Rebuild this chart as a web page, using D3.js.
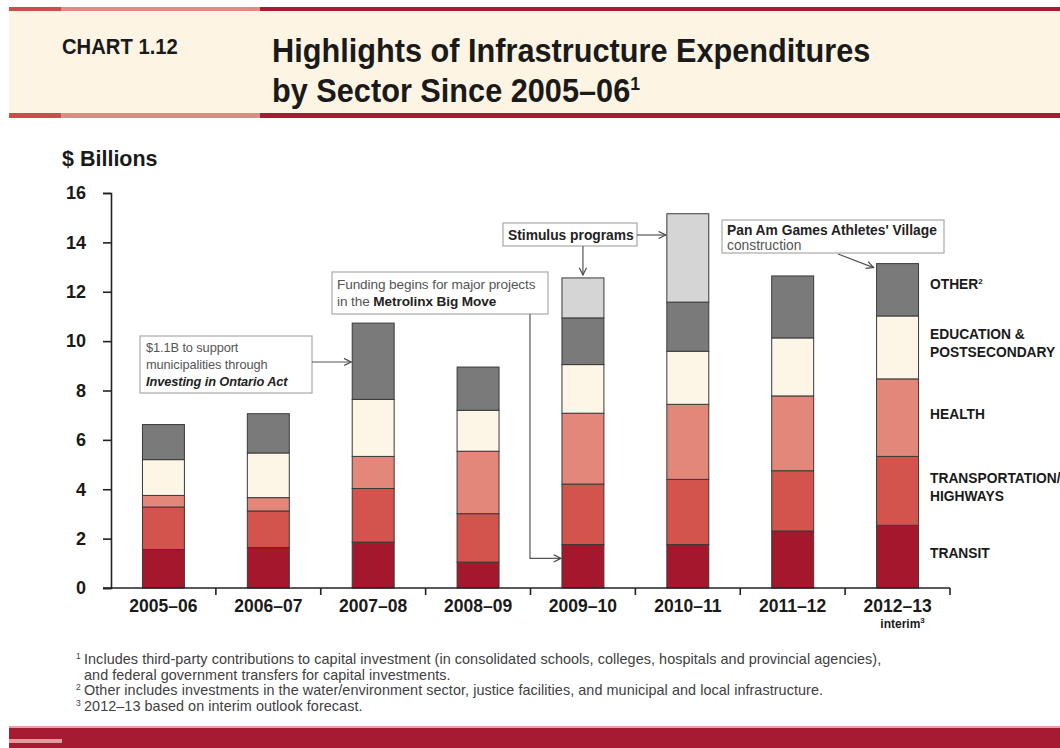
<!DOCTYPE html>
<html>
<head>
<meta charset="utf-8">
<script src="https://cdn.jsdelivr.net/npm/d3@7"></script>
<style>
  html, body { margin: 0; padding: 0; background: #ffffff; }
  svg { display: block; }
  text { font-family: "Liberation Sans", Arial, sans-serif; }
</style>
</head>
<body>
<svg id="chart" width="1060" height="748"></svg>
<script>
// Fiscal years on the x axis
const years = ["2005–06", "2006–07", "2007–08", "2008–09", "2009–10", "2010–11", "2011–12", "2012–13"];

// Spending by sector, $ billions
const transit        = [1.56, 1.64, 1.86, 1.05, 1.76, 1.76, 2.31, 2.54];
const transportation = [1.72, 1.48, 2.17, 1.96, 2.45, 2.64, 2.44, 2.79];
const health         = [0.47, 0.54, 1.30, 2.53, 2.87, 3.04, 3.03, 3.14];
const education      = [1.45, 1.81, 2.31, 1.66, 1.97, 2.15, 2.35, 2.55];
const other          = [1.42, 1.59, 3.09, 1.75, 1.89, 1.99, 2.51, 2.12];
const stimulus       = [0,    0,    0,    0,    1.62, 3.58, 0,    0   ];

const yTicks = [0, 2, 4, 6, 8, 10, 12, 14, 16];

const seriesKeys = ["transit", "transportation", "health", "education", "other", "stimulus"];
const seriesColors = ["#a5172d", "#d3534d", "#e4877b", "#fdf6e6", "#7a7a7a", "#d5d5d5"];
const legendLabels = [
  { key: "transit", lines: ["TRANSIT"] },
  { key: "transportation", lines: ["TRANSPORTATION/", "HIGHWAYS"] },
  { key: "health", lines: ["HEALTH"] },
  { key: "education", lines: ["EDUCATION &", "POSTSECONDARY"] },
  { key: "other", lines: ["OTHER", "2"] }
];

const rows = years.map((yr, i) => ({
  year: yr,
  transit: transit[i],
  transportation: transportation[i],
  health: health[i],
  education: education[i],
  other: other[i],
  stimulus: stimulus[i]
}));

const svg = d3.select("#chart");

// ---- Header band ----
const header = svg.append("g");
header.append("rect").attr("x", 9).attr("y", 9).attr("width", 1051).attr("height", 106).attr("fill", "#fdf4e3");
function ruleLine(y, h) {
  header.append("rect").attr("x", 9).attr("y", y).attr("width", 52).attr("height", h).attr("fill", "#c94f4d");
  header.append("rect").attr("x", 61).attr("y", y).attr("width", 199).attr("height", h).attr("fill", "#e08985");
  header.append("rect").attr("x", 260).attr("y", y).attr("width", 800).attr("height", h).attr("fill", "#a31c34");
}
ruleLine(7, 4);
ruleLine(113, 5);

// Condensed heading text: regular face squeezed horizontally
function condensed(g, xp, yp, sx, size) {
  return g.append("text")
    .attr("transform", `translate(${xp},${yp}) scale(${sx},1)`)
    .attr("font-size", size).attr("font-weight", "bold").attr("fill", "#1a1a1a");
}
condensed(header, 62, 54, 0.92, 22).text("CHART 1.12");
condensed(header, 272, 62, 0.93, 33).text("Highlights of Infrastructure Expenditures");
const t2 = condensed(header, 272, 102, 0.93, 33);
t2.append("tspan").text("by Sector Since 2005–06");
t2.append("tspan").attr("font-size", 19).attr("dy", -12).text("1");

// ---- Scales ----
const x = d3.scaleBand().domain(years).range([111, 950]).paddingInner(0.6).paddingOuter(0.3);
const y = d3.scaleLinear().domain([0, 16]).range([588, 193]);
const color = d3.scaleOrdinal().domain(seriesKeys).range(seriesColors);

const stacked = d3.stack().keys(seriesKeys)(rows);

// ---- Bars ----
const barG = svg.append("g");
barG.selectAll("g.series")
  .data(stacked)
  .join("g")
  .attr("class", "series")
  .attr("fill", d => color(d.key))
  .selectAll("rect")
  .data(d => d.filter(s => s[1] - s[0] > 0))
  .join("rect")
  .attr("x", d => x(d.data.year))
  .attr("width", x.bandwidth())
  .attr("y", d => y(d[1]))
  .attr("height", d => y(d[0]) - y(d[1]))
  .attr("stroke", "#3a3a3a")
  .attr("stroke-width", 1);

// ---- Y axis ----
const yAxis = svg.append("g")
  .attr("transform", "translate(111,0)")
  .call(d3.axisLeft(y).tickValues(yTicks).tickSize(8).tickPadding(17).tickFormat(d3.format("d")));
yAxis.select(".domain").attr("stroke", "#222").attr("stroke-width", 1.6);
yAxis.selectAll(".tick line").attr("stroke", "#222").attr("stroke-width", 1.6);
yAxis.selectAll(".tick text")
  .attr("font-size", 18).attr("font-weight", "bold").attr("fill", "#1a1a1a")
  .attr("font-family", "Liberation Sans, Arial, sans-serif");

svg.append("text")
  .attr("x", 62).attr("y", 166)
  .attr("font-size", 21.5).attr("font-weight", "bold").attr("fill", "#1a1a1a")
  .text("$ Billions");

// ---- X axis: line, boundary ticks and year labels ----
const xAxis = svg.append("g");
xAxis.append("line")
  .attr("x1", 103).attr("x2", x.range()[1])
  .attr("y1", y(0)).attr("y2", y(0))
  .attr("stroke", "#222").attr("stroke-width", 1.6);
const gap = x.step() - x.bandwidth();
const boundaries = years.slice(1).map(c => x(c) - gap / 2).concat([x.range()[1]]);
xAxis.selectAll("line.bt")
  .data(boundaries)
  .join("line")
  .attr("class", "bt")
  .attr("x1", d => d).attr("x2", d => d)
  .attr("y1", y(0)).attr("y2", y(0) + 7)
  .attr("stroke", "#222").attr("stroke-width", 1.6);
xAxis.selectAll("text.yr")
  .data(years)
  .join("text")
  .attr("class", "yr")
  .attr("x", d => x(d) + x.bandwidth() / 2)
  .attr("y", 612)
  .attr("text-anchor", "middle")
  .attr("font-size", 17.5).attr("font-weight", "bold").attr("fill", "#1a1a1a")
  .text(d => d);
const interim = xAxis.append("text")
  .attr("x", x(years[7]) + x.bandwidth() / 2 + 5)
  .attr("y", 628)
  .attr("text-anchor", "middle")
  .attr("font-size", 12).attr("font-weight", "bold").attr("fill", "#1a1a1a");
interim.append("tspan").text("interim");
interim.append("tspan").attr("font-size", 8).attr("dy", -5).text("3");

// ---- Sector labels beside the last bar ----
const lastIdx = years.length - 1;
const legendG = svg.append("g");
legendLabels.forEach(l => {
  const s = stacked.find(d => d.key === l.key)[lastIdx];
  const mid = (y(s[0]) + y(s[1])) / 2 - 4;
  const t = legendG.append("text")
    .attr("x", 930)
    .attr("font-size", 13.8).attr("font-weight", "bold").attr("fill", "#1a1a1a");
  if (l.key === "other") {
    t.attr("y", mid + 3);
    t.append("tspan").text(l.lines[0]);
    t.append("tspan").attr("font-size", 8).attr("dy", -5).text(l.lines[1]);
  } else {
    const n = l.lines.length;
    l.lines.forEach((line, k) => {
      t.append("tspan").attr("x", 930)
        .attr("y", mid + 5 + (k - (n - 1) / 2) * 18)
        .text(line);
    });
  }
});

// ---- Annotations ----
const defs = svg.append("defs");
defs.append("marker")
  .attr("id", "chev")
  .attr("viewBox", "0 0 10 10")
  .attr("refX", 9).attr("refY", 5)
  .attr("markerWidth", 9).attr("markerHeight", 9)
  .attr("markerUnits", "userSpaceOnUse")
  .attr("orient", "auto")
  .append("path")
  .attr("d", "M1,1 L9,5 L1,9")
  .attr("fill", "none").attr("stroke", "#444").attr("stroke-width", 1.3);

const ann = svg.append("g");
function box(x0, y0, w, h) {
  ann.append("rect").attr("x", x0).attr("y", y0).attr("width", w).attr("height", h)
    .attr("fill", "#ffffff").attr("stroke", "#a9a9a9").attr("stroke-width", 1.2);
}
function arrow(points) {
  ann.append("path")
    .attr("d", d3.line()(points))
    .attr("fill", "none").attr("stroke", "#555").attr("stroke-width", 1.2)
    .attr("marker-end", "url(#chev)");
}
function line(xp, yp, parts, size, spacing) {
  const t = ann.append("text").attr("x", xp).attr("y", yp)
    .attr("font-size", size).attr("letter-spacing", spacing || 0);
  parts.forEach(p => {
    t.append("tspan")
      .attr("font-weight", p.bold ? "bold" : "normal")
      .attr("font-style", p.italic ? "italic" : "normal")
      .attr("fill", p.bold ? "#222" : "#555")
      .text(p.t);
  });
}

// Investing in Ontario Act
box(140, 336, 172, 57);
line(146, 352, [{ t: "$1.1B to support" }], 12.8, -0.1);
line(146, 369, [{ t: "municipalities through" }], 12.8, -0.1);
line(146, 386, [{ t: "Investing in Ontario Act", bold: true, italic: true }], 12.8, -0.1);
arrow([[312, 362], [x(years[2]) - 1, 362]]);

// Metrolinx Big Move
box(332, 272, 216, 42);
line(337, 289, [{ t: "Funding begins for major projects" }], 13.6, -0.1);
line(337, 306, [{ t: "in the " }, { t: "Metrolinx Big Move", bold: true }], 13.6, -0.1);
arrow([[530, 314], [530, y(1.2)], [x(years[4]) - 1, y(1.2)]]);

// Stimulus programs
box(503, 223, 134, 23);
line(508, 240, [{ t: "Stimulus programs", bold: true }], 13.8, 0);
arrow([[637, 235], [x(years[5]) - 1, 235]]);
const stimTop = stacked[5][4][1];
arrow([[x(years[4]) + x.bandwidth() / 2, 246], [x(years[4]) + x.bandwidth() / 2, y(stimTop) - 3]]);

// Pan Am Games
box(722, 220, 222, 33);
line(727, 235, [{ t: "Pan Am Games Athletes' Village", bold: true }], 13.8, 0);
line(727, 250, [{ t: "construction" }], 13.8, 0);
arrow([[838, 254], [x(years[7]) - 3, y(stacked[4][7][1]) + 4]]);

// ---- Footnotes ----
const notes = svg.append("g").attr("fill", "#404040");
const noteRows = [
  { sup: "1", text: "Includes third-party contributions to capital investment (in consolidated schools, colleges, hospitals and provincial agencies),", y: 664 },
  { sup: "", text: "and federal government transfers for capital investments.", y: 680 },
  { sup: "2", text: "Other includes investments in the water/environment sector, justice facilities, and municipal and local infrastructure.", y: 695 },
  { sup: "3", text: "2012–13  based on interim outlook forecast.", y: 711 }
];
noteRows.forEach(r => {
  if (r.sup) {
    notes.append("text").attr("x", 76).attr("y", r.y - 5).attr("font-size", 8.5).text(r.sup);
  }
  notes.append("text").attr("x", 84).attr("y", r.y)
    .attr("font-size", 14.4).attr("letter-spacing", 0.06).text(r.text);
});

// ---- Footer band ----
svg.append("rect").attr("x", 9).attr("y", 726).attr("width", 1051).attr("height", 2).attr("fill", "#e7a3a3");
svg.append("rect").attr("x", 9).attr("y", 728).attr("width", 1051).attr("height", 20).attr("fill", "#a51b31");
svg.append("rect").attr("x", 9).attr("y", 739).attr("width", 53).attr("height", 4).attr("fill", "#e89a98");
</script>
</body>
</html>
